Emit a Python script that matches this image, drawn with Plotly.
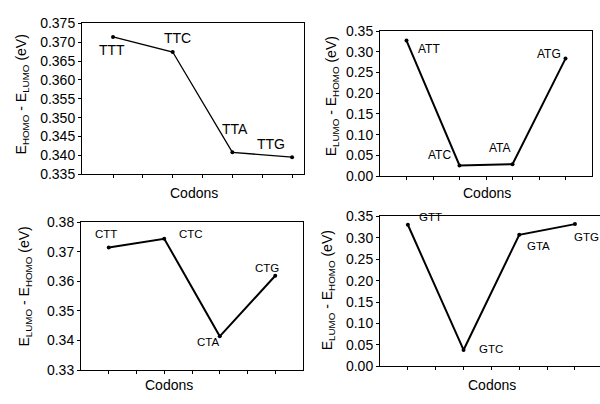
import plotly.graph_objects as go

# ---- data ----
x_pos = [1, 2, 3, 4]
codons_tt = ["TTT", "TTC", "TTA", "TTG"]
gap_tt = [0.3714, 0.3674, 0.3408, 0.3395]
codons_at = ["ATT", "ATC", "ATA", "ATG"]
gap_at = [0.327, 0.0255, 0.0285, 0.2835]
codons_ct = ["CTT", "CTC", "CTA", "CTG"]
gap_ct = [0.3714, 0.3744, 0.3414, 0.3619]
codons_gt = ["GTT", "GTC", "GTA", "GTG"]
gap_gt = [0.3305, 0.038, 0.307, 0.332]

W, H = 600, 404
FONT = "Liberation Sans, Arial, sans-serif"

def px_x(p):
    return p / W

def px_y(p):
    return 1 - p / H

panels = [
    dict(c=codons_tt, v=gap_tt, xd=(82, 304), yd=(16, 173), xr=[0.48, 4.2], yr=[0.335, 0.375],
         dt=0.005, fmt=".3f", lw=1.3, ls=14,
         off=[(-1, -13), (5, 14), (3, 23), (-21, 13)], my=True),
    dict(c=codons_at, v=gap_at, xd=(380, 592), yd=(24, 175), xr=[0.5, 4.5], yr=[0, 0.35],
         dt=0.05, fmt=".2f", lw=2, ls=12,
         off=[(22, -8), (-20, 10), (-13, 16), (-17, 5)], my=True),
    dict(c=codons_ct, v=gap_ct, xd=(81, 303), yd=(223, 377), xr=[0.5, 4.5], yr=[0.33, 0.38],
         dt=0.01, fmt=".2f", lw=2, ls=11.5,
         off=[(-3, 14), (27, 5), (-12, -6), (-8, 8)], my=True),
    dict(c=codons_gt, v=gap_gt, xd=(380, 600), yd=(217, 373), xr=[0.5, 4.45], yr=[0, 0.35],
         dt=0.05, fmt=".2f", lw=2, ls=11.5,
         off=[(23, 8), (27, 1), (19, -11), (12, -13)], my=False),
]

ytitles = [
    ("E<sub>HOMO</sub> - E<sub>LUMO</sub> (eV)", 22, 90),
    ("E<sub>LUMO</sub> - E<sub>HOMO</sub> (eV)", 332, 92),
    ("E<sub>LUMO</sub> - E<sub>HOMO</sub> (eV)", 25, 290),
    ("E<sub>LUMO</sub> - E<sub>HOMO</sub> (eV)", 328, 294),
]
xtitles = [(194, 193), (487, 193), (169, 393), (492, 393)]

fig = go.Figure()
annotations = []
layout = {}

for i, p in enumerate(panels, start=1):
    sx = "" if i == 1 else str(i)
    fig.add_trace(go.Scatter(
        x=x_pos, y=p["v"], mode="lines+markers",
        line=dict(color="black", width=p["lw"]),
        marker=dict(color="black", size=4),
        xaxis="x" + sx, yaxis="y" + sx, showlegend=False, cliponaxis=False,
    ))
    layout["xaxis" + sx] = dict(
        domain=[px_x(p["xd"][0]), px_x(p["xd"][1])],
        range=p["xr"], anchor="y" + sx,
        tickvals=[1, 1.5, 2, 2.5, 3, 3.5, 4], showticklabels=False,
        ticks="outside", ticklen=3, tickcolor="black", tickwidth=1,
        showline=True, linecolor="black", linewidth=1, mirror=True,
        showgrid=False, zeroline=False,
    )
    layout["yaxis" + sx] = dict(
        domain=[px_y(p["yd"][1]), px_y(p["yd"][0])],
        range=p["yr"], anchor="x" + sx, dtick=p["dt"], tick0=0, tickformat=p["fmt"],
        ticks="outside", ticklen=3, tickcolor="black", tickwidth=1,
        showline=True, linecolor="black", linewidth=1, mirror=p["my"],
        showgrid=False, zeroline=False,
        tickfont=dict(family=FONT, size=14, color="black"),
    )
    for j, (lab, val) in enumerate(zip(p["c"], p["v"])):
        dx, dy = p["off"][j]
        annotations.append(dict(
            x=x_pos[j], y=val, xref="x" + sx, yref="y" + sx, text=lab, showarrow=False,
            xshift=dx, yshift=dy, font=dict(family=FONT, size=p["ls"], color="black"),
        ))

for (t, cx, cy) in ytitles:
    annotations.append(dict(
        x=px_x(cx), y=px_y(cy), xref="paper", yref="paper", text=t, textangle=-90,
        showarrow=False, xanchor="center", yanchor="middle",
        font=dict(family=FONT, size=14, color="black"),
    ))
for (cx, cy) in xtitles:
    annotations.append(dict(
        x=px_x(cx), y=px_y(cy), xref="paper", yref="paper", text="Codons",
        showarrow=False, xanchor="center", yanchor="middle",
        font=dict(family=FONT, size=14, color="black"),
    ))

fig.update_layout(
    width=W, height=H, margin=dict(l=0, r=0, t=0, b=0),
    paper_bgcolor="white", plot_bgcolor="white",
    font=dict(family=FONT, color="black"),
    annotations=annotations, **layout,
)

fig.write_html("out.html")
